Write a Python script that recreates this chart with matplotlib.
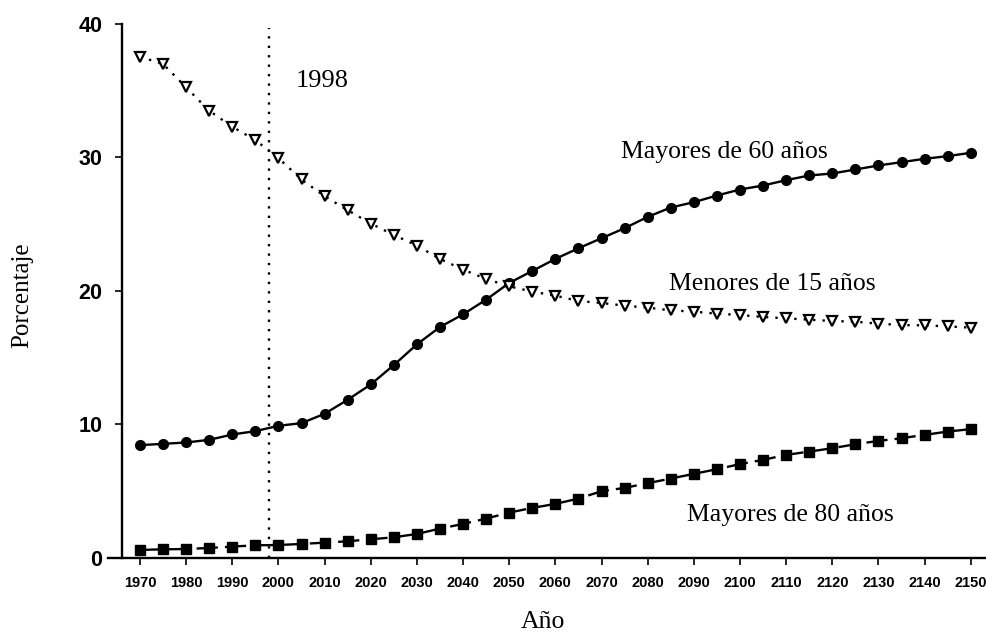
"""
Porcentaje de población por grupo de edad, 1970-2150
"""

import matplotlib
matplotlib.use("Agg")
import matplotlib.pyplot as plt

# ── Data ─────────────────────────────────────────────────────────────
years = [1970, 1975, 1980, 1985, 1990, 1995, 2000, 2005, 2010, 2015,
         2020, 2025, 2030, 2035, 2040, 2045, 2050, 2055, 2060, 2065,
         2070, 2075, 2080, 2085, 2090, 2095, 2100, 2105, 2110, 2115,
         2120, 2125, 2130, 2135, 2140, 2145, 2150]

mayores_60 = [8.45, 8.55, 8.65, 8.85, 9.25, 9.5, 9.9, 10.1, 10.8, 11.85,
              13.0, 14.45, 16.0, 17.3, 18.25, 19.35, 20.6, 21.5, 22.4, 23.2,
              23.95, 24.7, 25.55, 26.25, 26.65, 27.15, 27.6, 27.9, 28.3, 28.65,
              28.8, 29.1, 29.4, 29.65, 29.9, 30.1, 30.35]

menores_15 = [37.55, 37.0, 35.25, 33.5, 32.3, 31.3, 29.95, 28.35, 27.1, 26.05,
              25.05, 24.2, 23.4, 22.4, 21.6, 20.9, 20.35, 19.95, 19.65, 19.25,
              19.1, 18.9, 18.75, 18.55, 18.45, 18.3, 18.2, 18.05, 17.95, 17.85,
              17.75, 17.7, 17.55, 17.45, 17.42, 17.35, 17.25]

mayores_80 = [0.6, 0.65, 0.67, 0.75, 0.85, 0.95, 0.97, 1.05, 1.15, 1.25,
              1.4, 1.55, 1.8, 2.2, 2.55, 2.95, 3.4, 3.75, 4.05, 4.45,
              5.0, 5.25, 5.6, 5.95, 6.3, 6.65, 7.03, 7.35, 7.72, 7.97,
              8.22, 8.52, 8.77, 8.97, 9.22, 9.47, 9.65]

xticks = [1970, 1980, 1990, 2000, 2010, 2020, 2030, 2040, 2050, 2060,
          2070, 2080, 2090, 2100, 2110, 2120, 2130, 2140, 2150]
yticks = [0, 10, 20, 30, 40]

ref_year = 1998

SERIF = "Liberation Serif"
SANS = "Liberation Sans"

# ── Figure ───────────────────────────────────────────────────────────
fig = plt.figure(figsize=(9.86, 6.39), dpi=100)
ax = fig.add_axes([0.1237, 0.1268, 0.8763, 0.8357])

ax.plot(years, mayores_60, "-", color="black", linewidth=1.7,
        marker="o", markersize=7, clip_on=False, zorder=3)
ax.plot(years, menores_15, linestyle=(0, (1, 3)), color="black", linewidth=1.7,
        marker="v", markersize=6.5, markerfacecolor="white",
        markeredgecolor="black", markeredgewidth=1.6, clip_on=False, zorder=3)
ax.plot(years, mayores_80, linestyle=(0, (9, 3)), color="black", linewidth=1.7,
        marker="s", markersize=6.5, clip_on=False, zorder=3)

# reference year
ax.plot([ref_year, ref_year], [0, 39.7], linestyle=(0, (1, 3)),
        color="black", linewidth=1.7, clip_on=False, zorder=2)

ax.text(2003.8, 35.7, "1998", family=SERIF, fontsize=19, va="center", ha="left")
ax.text(2074.3, 30.4, "Mayores de 60 años", family=SERIF, fontsize=18.5,
        va="center", ha="left")
ax.text(2084.7, 20.55, "Menores de 15 años", family=SERIF, fontsize=18.5,
        va="center", ha="left")
ax.text(2088.6, 3.2, "Mayores de 80 años", family=SERIF, fontsize=18.5,
        va="center", ha="left")

# ── Axes styling ─────────────────────────────────────────────────────
ax.set_xlim(1966.1, 2153.3)
ax.set_ylim(0, 40)
ax.spines["top"].set_visible(False)
ax.spines["right"].set_visible(False)
ax.spines["left"].set_linewidth(1.7)
ax.spines["bottom"].set_linewidth(1.7)
ax.spines["bottom"].set_bounds(1963.0, 2153.3)

ax.set_xticks(xticks)
ax.set_xticklabels([str(y) for y in xticks], family=SANS, fontweight="bold",
                   fontsize=10.5)
ax.set_yticks(yticks)
ax.set_yticklabels([str(v) for v in yticks], family=SANS, fontweight="bold",
                   fontsize=15.5)
ax.tick_params(axis="x", direction="out", length=5, width=1.2, pad=8)
ax.tick_params(axis="y", direction="out", length=5, width=1.2, pad=9)

fig.text(0.0223, 0.538, "Porcentaje", family=SERIF, fontsize=18,
         rotation=90, ha="center", va="center")
fig.text(0.5507, 0.0266, "Año", family=SERIF, fontsize=18.5,
         ha="center", va="center")

fig.savefig("out.png", dpi=100, facecolor="white")
